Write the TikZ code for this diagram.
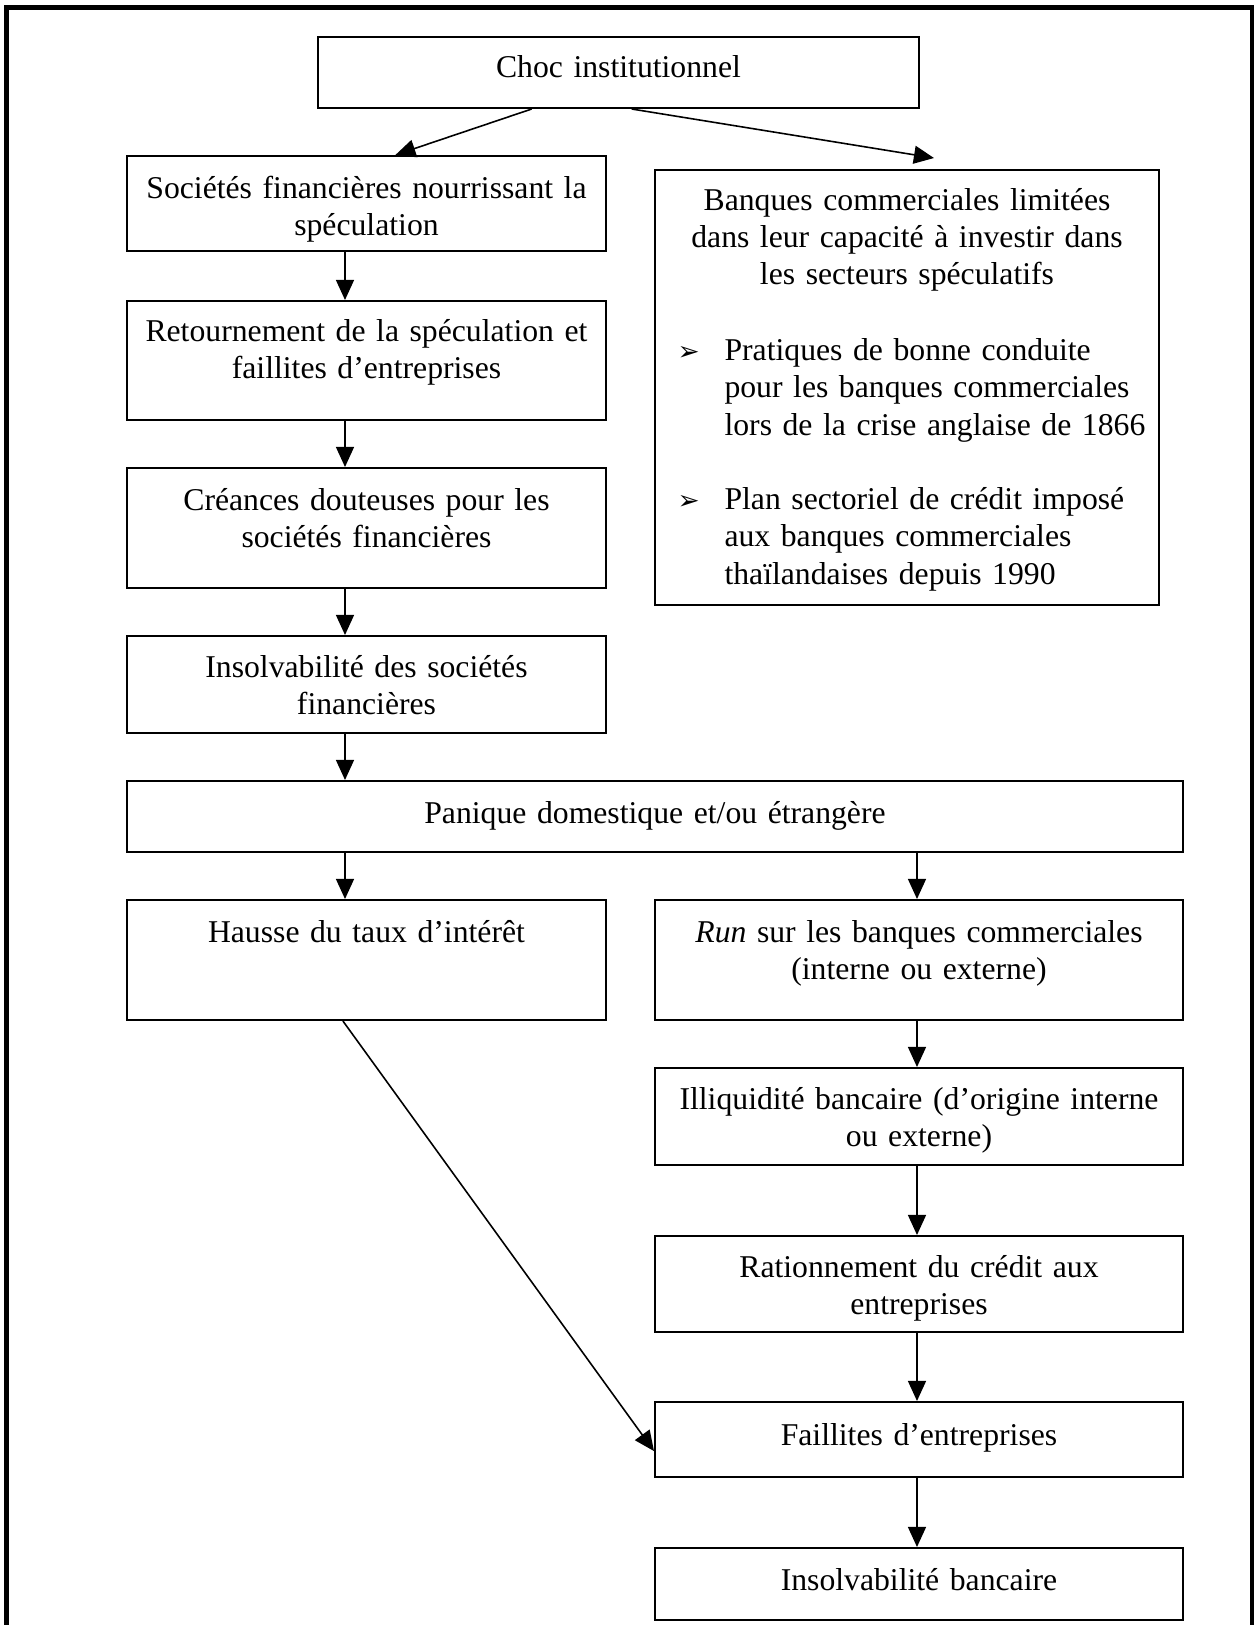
\documentclass[tikz,border=0pt]{standalone}
\usepackage{fontspec}
\setmainfont{Liberation Serif}
\newfontfamily\symbolfont{DejaVu Sans}
\usetikzlibrary{positioning,calc,fit,arrows.meta}

\begin{document}
\begin{tikzpicture}[x=0.3785pt, y=-0.3785pt,
    font=\fontsize{12}{14.1}\selectfont,
    box/.style={draw, line width=0.76pt, inner sep=0pt},
    txt/.style={anchor=base, inner sep=0pt, align=center, text width=200pt},
    txtl/.style={anchor=base west, inner sep=0pt, align=left, text width=170pt},
    bul/.style={anchor=base west, inner sep=0pt, font=\symbolfont\fontsize{10}{11}\selectfont},
    arr/.style={line width=0.6pt, -{Triangle[length=7.6pt, width=6.8pt]}}]

    % Page and frame (open at the bottom)
    \useasboundingbox (0,0) rectangle (1254,1625);
    \draw[line width=2.1pt] (6.5,1640) -- (6.5,7.5) -- (1252.5,7.5) -- (1252.5,1640);

    % Boxes
    \node[box, fit={(318,37) (919,108)}] (choc) {};
    \node[box, fit={(127,156) (606,251)}] (soc) {};
    \node[box, fit={(655,170) (1159,605)}] (banq) {};
    \node[box, fit={(127,301) (606,420)}] (ret) {};
    \node[box, fit={(127,468) (606,588)}] (cre) {};
    \node[box, fit={(127,636) (606,733)}] (insf) {};
    \node[box, fit={(127,781) (1183,852)}] (pan) {};
    \node[box, fit={(127,900) (606,1020)}] (hau) {};
    \node[box, fit={(655,900) (1183,1020)}] (run) {};
    \node[box, fit={(655,1068) (1183,1165)}] (illi) {};
    \node[box, fit={(655,1236) (1183,1332)}] (rat) {};
    \node[box, fit={(655,1402) (1183,1477)}] (fail) {};
    \node[box, fit={(655,1548) (1183,1620)}] (insb) {};

    % Texts
    \node[txt] (chocT) at ($(choc.north)+(0,41.5)$) {Choc institutionnel};
    \node[txt] (socT) at ($(soc.north)+(0,43)$) {Sociétés financières nourrissant la\\spéculation};
    \node[txt] (retT) at ($(ret.north)+(0,41)$) {Retournement de la spéculation et\\faillites d’entreprises};
    \node[txt] (creT) at ($(cre.north)+(0,43)$) {Créances douteuses pour les\\sociétés financières};
    \node[txt] (insfT) at ($(insf.north)+(0,42)$) {Insolvabilité des sociétés\\financières};
    \node[txt] (panT) at ($(pan.north)+(0,43)$) {Panique domestique et/ou étrangère};
    \node[txt] (hauT) at ($(hau.north)+(0,43)$) {Hausse du taux d’intérêt};
    \node[txt] (runT) at ($(run.north)+(0,43)$) {\textit{Run} sur les banques commerciales\\(interne ou externe)};
    \node[txt] (illiT) at ($(illi.north)+(0,42)$) {Illiquidité bancaire (d’origine interne\\ou externe)};
    \node[txt] (ratT) at ($(rat.north)+(0,42)$) {Rationnement du crédit aux\\entreprises};
    \node[txt] (failT) at ($(fail.north)+(0,44)$) {Faillites d’entreprises};
    \node[txt] (insbT) at ($(insb.north)+(0,43)$) {Insolvabilité bancaire};

    % Right box: title and two bullets
    \node[txt] (banqT) at ($(banq.north)+(0,41)$) {Banques commerciales limitées\\dans leur capacité à investir dans\\les secteurs spéculatifs};
    \node[bul] (bulA) at (677,360.5) {➢};
    \node[txtl] (itemA) at (724,360.5) {Pratiques de bonne conduite\\pour les banques commerciales\\lors de la crise anglaise de 1866};
    \node[bul] (bulB) at (677,509.5) {➢};
    \node[txtl] (itemB) at (724,509.5) {Plan sectoriel de crédit imposé\\aux banques commerciales\\thaïlandaises depuis 1990};

    % Arrows
    \coordinate (lcol) at (345,0);
    \coordinate (rcol) at (917,0);
    \coordinate (tipB) at (934,158);
    \draw[arr] ($(choc.south west)!0.356!(choc.south east)$) -- ($(soc.north west)!0.56!(soc.north east)$);
    \draw[arr] ($(choc.south west)!0.522!(choc.south east)$) -- (tipB);
    \foreach \a/\b in {soc/ret, ret/cre, cre/insf, insf/pan, pan/hau}
        \draw[arr] (\a.south -| lcol) -- (\b.north -| lcol);
    \foreach \a/\b in {pan/run, run/illi, illi/rat, rat/fail, fail/insb}
        \draw[arr] (\a.south -| rcol) -- (\b.north -| rcol);
    \draw[arr] ($(hau.south west)!0.451!(hau.south east)$) -- ($(fail.north west)!0.65!(fail.south west)$);

\end{tikzpicture}
\end{document}
